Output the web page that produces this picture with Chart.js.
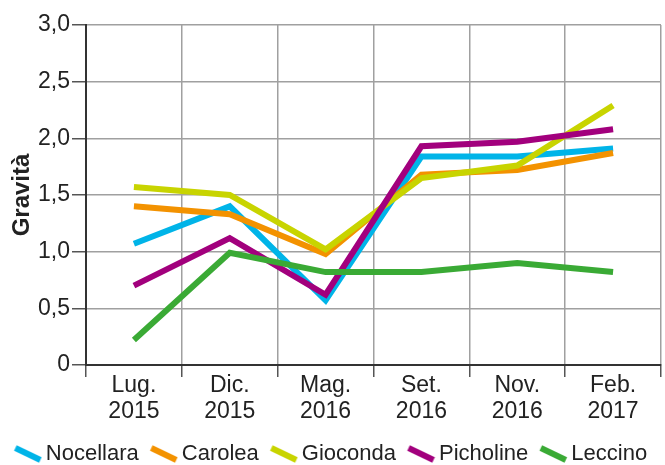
<!DOCTYPE html>
<html>
<head>
<meta charset="utf-8">
<script src="https://cdn.jsdelivr.net/npm/chart.js@4/dist/chart.umd.min.js"></script>
<style>
  html, body { margin: 0; padding: 0; background: #fff; }
  #wrap { width: 665px; height: 465px; }
</style>
</head>
<body>
<div id="wrap"><canvas id="gravChart" width="665" height="465"></canvas></div>
<script>
// ---- data ----
const months = [["Lug.", "2015"], ["Dic.", "2015"], ["Mag.", "2016"], ["Set.", "2016"], ["Nov.", "2016"], ["Feb.", "2017"]];
const yTicks = [0, 0.5, 1, 1.5, 2, 2.5, 3];

const nocellara = [1.07, 1.40, 0.57, 1.84, 1.84, 1.91];
const carolea   = [1.40, 1.33, 0.98, 1.68, 1.72, 1.87];
const gioconda  = [1.57, 1.50, 1.02, 1.65, 1.76, 2.29];
const picholine = [0.70, 1.12, 0.62, 1.93, 1.97, 2.08];
const leccino   = [0.22, 0.99, 0.82, 0.82, 0.90, 0.82];

const FONT = "'Liberation Sans Narrow', 'Liberation Sans', Arial, sans-serif";

// little slanted stroke used as legend marker (pushed right, close to the text)
function slash(color) {
    const c = document.createElement("canvas");
    c.width = 36;
    c.height = 18;
    const g = c.getContext("2d");
    g.strokeStyle = color;
    g.lineWidth = 6;
    g.beginPath();
    g.moveTo(9, 3);
    g.lineTo(34, 15);
    g.stroke();
    return c;
}

function series(label, data, color, order) {
    return {
        label: label,
        data: data,
        borderColor: color,
        backgroundColor: color,
        borderWidth: 6,
        tension: 0,
        pointRadius: 0,
        pointHoverRadius: 0,
        pointStyle: slash(color),
        order: order
    };
}

document.addEventListener("DOMContentLoaded", function () {
    const ctx = document.getElementById("gravChart").getContext("2d");

    new Chart(ctx, {
        type: "line",
        data: {
            labels: months,
            datasets: [
                series("Nocellara", nocellara, "#00b4e8", 5),
                series("Carolea", carolea, "#f39200", 4),
                series("Gioconda", gioconda, "#c8d400", 3),
                series("Picholine", picholine, "#a2007d", 2),
                series("Leccino", leccino, "#3aaa35", 1)
            ]
        },
        options: {
            responsive: false,
            animation: false,
            layout: { padding: { top: 25, right: 4, left: 0, bottom: 0 } },
            plugins: {
                tooltip: { enabled: false },
                legend: {
                    position: "bottom",
                    maxHeight: 33,
                    labels: {
                        usePointStyle: true,
                        pointStyleWidth: 21,
                        color: "#222",
                        font: { family: FONT, size: 22 },
                        padding: 11,
                        sort: (a, b) => a.datasetIndex - b.datasetIndex
                    }
                }
            },
            scales: {
                x: {
                    type: "category",
                    offset: true,
                    grid: {
                        offset: true,
                        color: "#a0a0a0",
                        lineWidth: 1.5,
                        tickLength: 12,
                        tickColor: "#555"
                    },
                    border: { color: "#333", width: 2 },
                    ticks: {
                        color: "#222",
                        font: { family: FONT, size: 23, lineHeight: 1.15 },
                        padding: -5,
                        maxRotation: 0
                    },
                    afterFit: function (scale) { scale.height = 67; }
                },
                y: {
                    min: 0,
                    max: 3,
                    afterBuildTicks: function (scale) {
                        scale.ticks = yTicks.map(v => ({ value: v }));
                    },
                    grid: {
                        color: "#a0a0a0",
                        lineWidth: 1.5,
                        tickLength: 14,
                        tickColor: "#555"
                    },
                    border: { color: "#333", width: 2 },
                    ticks: {
                        color: "#222",
                        font: { family: FONT, size: 23 },
                        padding: 2,
                        callback: function (v) {
                            return v === 0 ? "0" : v.toFixed(1).replace(".", ",");
                        }
                    },
                    title: {
                        display: true,
                        text: "Gravità",
                        color: "#222",
                        font: { family: FONT, size: 24, weight: "bold" },
                        padding: { top: 8, bottom: 0 }
                    },
                    afterFit: function (scale) { scale.width = 86; }
                }
            }
        }
    });
});
</script>
</body>
</html>
